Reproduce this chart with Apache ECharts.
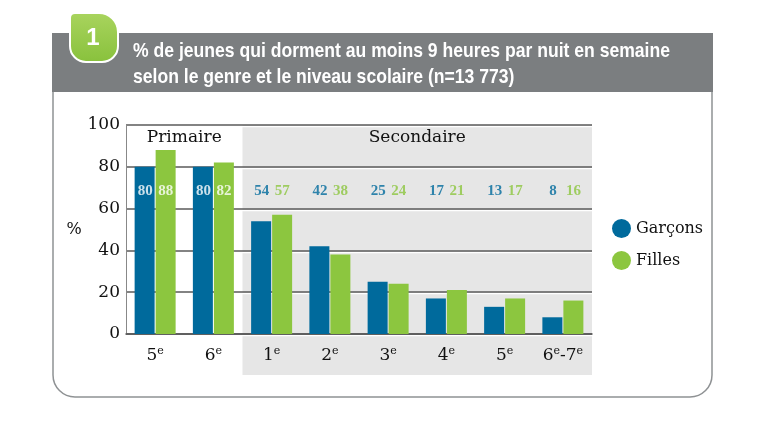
<!DOCTYPE html>
<html>
<head>
<meta charset="utf-8">
<script src="https://cdn.jsdelivr.net/npm/echarts@6/dist/echarts.min.js"></script>
<style>
html,body{margin:0;padding:0;background:#fff;}
#c{width:770px;height:433px;}
</style>
</head>
<body>
<div id="c"></div>
<script>
// ---- data ----
var categories = ['P5', 'P6', 'S1', 'S2', 'S3', 'S4', 'S5', 'S67'];
var tickLabels = ['5e', '6e', '1e', '2e', '3e', '4e', '5e', '6e-7e'];
var garcons = [80, 80, 54, 42, 25, 17, 13, 8];
var filles = [88, 82, 57, 38, 24, 21, 17, 16];
var yTicks = [0, 20, 40, 60, 80, 100];
var titleLines = ['% de jeunes qui dorment au moins 9 heures par nuit en semaine',
                  'selon le genre et le niveau scolaire (n=13 773)'];
var sections = ['Primaire', 'Secondaire'];
var seriesNames = ['Garçons', 'Filles'];

var BLUE = '#006a9c', GREEN = '#8cc63f';
var SERIF = '"DejaVu Serif", "Liberation Serif", serif';
var SERIF2 = '"Liberation Serif", "DejaVu Serif", serif';
var SANS = '"Liberation Sans", Arial, sans-serif';
var LABEL_Y = 68.5; // vertical level of value labels row
var nPrim = 2;

function supLabel(s) {
  var out = '';
  for (var i = 0; i < s.length; i++) {
    var ch = s[i];
    if (ch === 'e') out += '{s|e}';
    else out += '{n|' + ch + '}';
  }
  return out;
}

function labelData(vals, isGirl) {
  return vals.map(function (v, i) {
    return {
      value: LABEL_Y,
      label: { color: i < nPrim ? '#ffffff' : (isGirl ? GREEN : BLUE) }
    };
  });
}

// measure title width to emulate condensed face
var mctx = document.createElement('canvas').getContext('2d');
var TITLE_FONT = 'bold 21px ' + SANS;
mctx.font = TITLE_FONT;
var titleW = mctx.measureText(titleLines[0]).width;
var titleScale = 537 / titleW;

var chart = echarts.init(document.getElementById('c'), null, { renderer: 'canvas' });

var option = {
  animation: false,
  grid: { left: 126, right: 178, top: 125, bottom: 99, containLabel: false },
  legend: {
    data: seriesNames,
    orient: 'vertical',
    left: 607, top: 214,
    icon: 'circle',
    itemWidth: 19, itemHeight: 19, itemGap: 13,
    textStyle: { fontFamily: SERIF, fontSize: 16, color: '#111' }
  },
  xAxis: {
    type: 'category',
    data: categories,
    axisLine: { show: true, lineStyle: { color: '#555', width: 1.5 } },
    axisTick: { show: false },
    axisLabel: {
      interval: 0,
      margin: 12,
      formatter: function (v, idx) { return supLabel(tickLabels[idx]); },
      rich: {
        n: { fontFamily: SERIF, fontSize: 17, color: '#111' },
        s: { fontFamily: SERIF, fontSize: 11, color: '#111', verticalAlign: 'bottom', padding: [0, 0, 9, 0] }
      }
    }
  },
  yAxis: {
    type: 'value',
    min: 0, max: 100, interval: 20,
    name: '%',
    nameLocation: 'middle',
    nameGap: 42,
    nameRotate: 0,
    nameTextStyle: { fontFamily: SERIF, fontSize: 16, color: '#111' },
    axisLine: { show: true, lineStyle: { color: '#888', width: 1 } },
    axisTick: { show: false },
    axisLabel: {
      margin: 6,
      fontFamily: SERIF, fontSize: 17, color: '#111',
      formatter: function (v) { return yTicks.indexOf(v) >= 0 ? String(v) : ''; }
    },
    splitLine: {
      show: true,
      lineStyle: { color: '#5a5a5a', width: 1.5, shadowColor: '#ffffff', shadowOffsetY: 1.5, shadowBlur: 0 }
    }
  },
  series: [
    {
      name: seriesNames[0], type: 'bar', data: garcons,
      barWidth: 20, barGap: '5%',
      itemStyle: { color: BLUE }, z: 3
    },
    {
      name: seriesNames[1], type: 'bar', data: filles,
      barWidth: 20, barGap: '5%',
      itemStyle: { color: GREEN }, z: 3
    },
    {
      name: 'lblG', type: 'scatter', symbolSize: 0, data: labelData(garcons, false),
      z: 5, silent: true,
      label: {
        show: true, position: 'inside', offset: [-10, 0],
        fontFamily: SERIF2, fontSize: 15, fontWeight: 'bold',
        formatter: function (p) { return String(garcons[p.dataIndex]); }
      }
    },
    {
      name: 'lblF', type: 'scatter', symbolSize: 0, data: labelData(filles, true),
      z: 5, silent: true,
      label: {
        show: true, position: 'inside', offset: [10.5, 0],
        fontFamily: SERIF2, fontSize: 15, fontWeight: 'bold',
        formatter: function (p) { return String(filles[p.dataIndex]); }
      }
    }
  ]
};
chart.setOption(option);

// decorations positioned from the axes
var x0 = chart.convertToPixel({ xAxisIndex: 0 }, 0);
var x1 = chart.convertToPixel({ xAxisIndex: 0 }, 1);
var step = x1 - x0;
var left = x0 - step / 2;
var secStart = left + nPrim * step;
var right = left + categories.length * step;
var yTop = chart.convertToPixel({ yAxisIndex: 0 }, 100);
var yBot = chart.convertToPixel({ yAxisIndex: 0 }, 0);

chart.setOption({
  graphic: [
    { type: 'rect', z: -10, shape: { x: 53, y: 80, width: 659, height: 317, r: [0, 0, 22, 22] },
      style: { fill: 'none', stroke: '#8f9294', lineWidth: 1.5 } },
    { type: 'rect', z: -5, shape: { x: secStart, y: yTop, width: right - secStart, height: yBot - yTop + 41 },
      style: { fill: '#e6e6e6' } },
    { type: 'rect', z: 10, shape: { x: 52, y: 33, width: 661, height: 59 },
      style: { fill: '#7b7e80' } },
    { type: 'rect', z: 11, shape: { x: 70, y: 13, width: 48, height: 49, r: [5, 19, 16, 16] },
      style: {
        fill: new echarts.graphic.LinearGradient(0, 0, 0, 1, [
          { offset: 0, color: '#a9d45e' }, { offset: 1, color: '#88c13c' }
        ]),
        stroke: '#ffffff', lineWidth: 2
      } },
    { type: 'text', z: 12, style: { x: 93, y: 38, text: '1', fill: '#fff', font: 'bold 24px ' + SANS, align: 'center', verticalAlign: 'middle' } },
    { type: 'text', z: 12, x: 133, y: 51, scaleX: titleScale,
      style: { x: 0, y: 0, text: titleLines[0], fill: '#fff', font: TITLE_FONT, verticalAlign: 'middle' } },
    { type: 'text', z: 12, x: 133, y: 77, scaleX: titleScale,
      style: { x: 0, y: 0, text: titleLines[1], fill: '#fff', font: TITLE_FONT, verticalAlign: 'middle' } },
    { type: 'text', z: 6, style: { x: (left + secStart) / 2, y: yTop + 13, text: sections[0], fill: '#111', font: '17px ' + SERIF, align: 'center', verticalAlign: 'middle' } },
    { type: 'text', z: 6, style: { x: (secStart + right) / 2, y: yTop + 13, text: sections[1], fill: '#111', font: '17px ' + SERIF, align: 'center', verticalAlign: 'middle' } }
  ]
});
</script>
</body>
</html>
